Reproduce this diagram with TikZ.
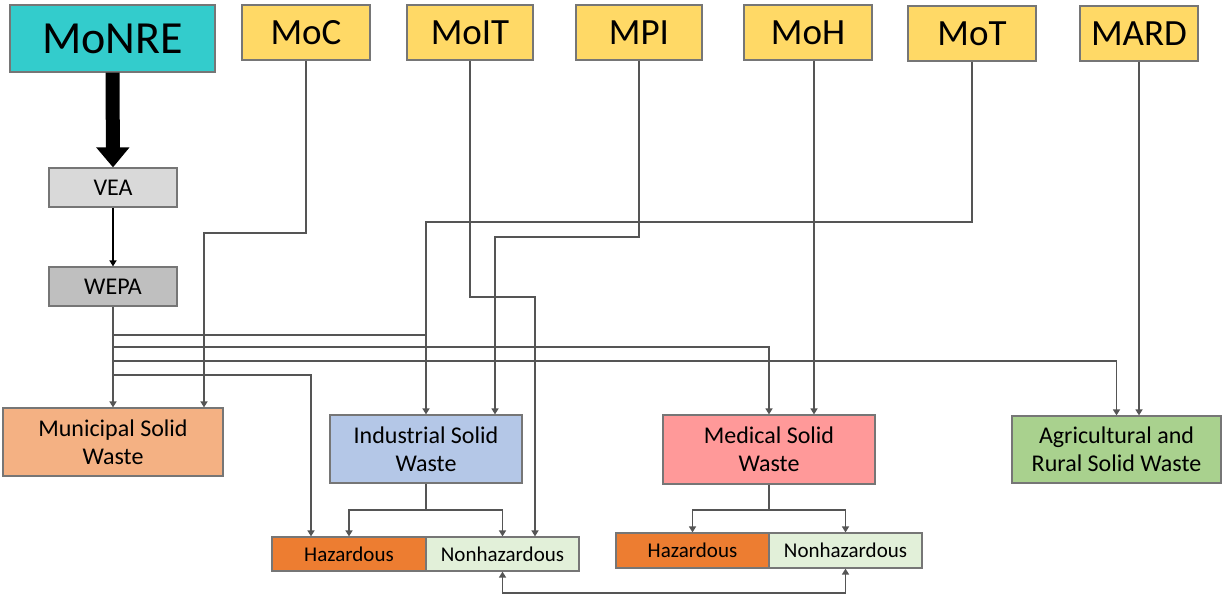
\documentclass[tikz,border=0pt]{standalone}
\usepackage{fontspec}
\setmainfont{Carlito}
\usetikzlibrary{arrows.meta,calc}
\definecolor{teal1}{HTML}{33CCCC}
\definecolor{yel}{HTML}{FFD966}
\definecolor{veac}{HTML}{D9D9D9}
\definecolor{wepac}{HTML}{BFBFBF}
\definecolor{munic}{HTML}{F4B183}
\definecolor{indc}{HTML}{B4C7E7}
\definecolor{medc}{HTML}{FF9999}
\definecolor{agric}{HTML}{A9D18E}
\definecolor{hazc}{HTML}{ED7D31}
\definecolor{nonc}{HTML}{E2F0D9}
\definecolor{edge}{HTML}{767676}
\definecolor{wire}{HTML}{555555}
\tikzset{
  box/.style={draw=edge, line width=1.2pt, inner sep=0pt, align=center, text=black},
  ministry/.style={box, fill=yel, minimum height=55pt, font=\fontsize{37}{40}\selectfont},
  agency/.style={box, minimum width=128pt, minimum height=39pt, font=\fontsize{24}{28}\selectfont},
  waste/.style={box, font=\fontsize{24}{28}\selectfont},
  kind/.style={box, font=\fontsize{21}{24}\selectfont},
  wirel/.style={draw=wire, line width=1.5pt},
  arr/.style={wirel, -{Triangle[width=7pt,length=6pt]}},
  darr/.style={wirel, {Triangle[width=7pt,length=6pt]}-{Triangle[width=7pt,length=6pt]}},
}
\begin{document}
\begin{tikzpicture}[x=1pt,y=-1pt]
\useasboundingbox (0,0) rectangle (1222,596);
% top row
\node[box, fill=teal1, minimum width=205pt, minimum height=67pt, font=\fontsize{46}{50}\selectfont] (monre) at (112.5,38.5) {MoNRE};
\node[ministry, minimum width=128pt] (moc) at (306,32.5) {MoC};
\node[ministry, minimum width=126pt] (moit) at (470,32.5) {MoIT};
\node[ministry, minimum width=126pt] (mpi) at (639,32.5) {MPI};
\node[ministry, minimum width=128pt] (moh) at (808,32.5) {MoH};
\node[ministry, minimum width=128pt] (mot) at (972,33.5) {MoT};
\node[ministry, minimum width=118pt] (mard) at (1139,33.5) {MARD};
% agencies
\node[agency, fill=veac] (vea) at (113,187.5) {VEA};
\node[agency, fill=wepac] (wepa) at (113,286.5) {WEPA};
% waste boxes
\node[waste, fill=munic, minimum width=220pt, minimum height=68pt] (muni) at (113,442) {Municipal Solid\\Waste};
\node[waste, fill=indc, minimum width=192pt, minimum height=68pt] (ind) at (426,449) {Industrial Solid\\Waste};
\node[waste, fill=medc, minimum width=212pt, minimum height=69pt] (med) at (769,449.5) {Medical Solid\\Waste};
\node[waste, fill=agric, minimum width=209pt, minimum height=67pt] (agri) at (1116.5,449.5) {Agricultural and\\Rural Solid Waste};
% hazardous kinds
\node[kind, fill=hazc, minimum width=154pt, minimum height=34pt] (haz1) at (349,554) {Hazardous};
\node[kind, fill=nonc, minimum width=153pt, minimum height=34pt] (non1) at (502.5,554) {Nonhazardous};
\node[kind, fill=hazc, minimum width=153pt, minimum height=35pt] (haz2) at (692.5,550.5) {Hazardous};
\node[kind, fill=nonc, minimum width=153pt, minimum height=35pt] (non2) at (845.5,550.5) {Nonhazardous};
% route levels
\coordinate (lc) at (0,233);
\coordinate (lp) at (0,237);
\coordinate (lt) at (0,222);
\coordinate (li) at (0,297);
\coordinate (b1) at (0,335);
\coordinate (b2) at (0,347);
\coordinate (b3) at (0,361);
\coordinate (b4) at (0,375);
\coordinate (sp) at (0,510);
\coordinate (bt) at (0,593);
% entry points
\coordinate (muniC) at ($(muni.north)+(91,0)$);
\coordinate (indP) at ($(ind.north)+(69,0)$);
\coordinate (nonI) at ($(non1.north)+(32.5,0)$);
\coordinate (hazW) at ($(haz1.north)+(-38,0)$);
\coordinate (medH) at ($(med.north)+(45,0)$);
\coordinate (mohS) at ($(moh.south)+(6,0)$);
% MoNRE -> VEA thick arrow
\draw[black, line width=14pt, -{Triangle[width=32pt,length=20pt]}] (monre.south) -- (vea.north);
\draw[black, line width=1.5pt, -{Triangle[width=7pt,length=6pt]}] (vea.south) -- (wepa.north);
% WEPA lines
\draw[arr] (wepa.south) -- (muni.north);
\draw[wirel] (wepa.south |- b1) -- (ind.north |- b1);
\draw[arr] (wepa.south |- b2) -| (med.north);
\draw[arr] (wepa.south |- b3) -| (agri.north);
\draw[arr] (wepa.south |- b4) -| (hazW);
% ministries
\draw[arr] (moc.south) -- (moc.south |- lc) -| (muniC);
\draw[arr] (moit.south) -- (moit.south |- li) -| (nonI);
\draw[arr] (mpi.south) -- (mpi.south |- lp) -| (indP);
\draw[arr] (mohS) -- (medH);
\draw[arr] (mot.south) -- (mot.south |- lt) -| (ind.north);
\draw[arr] (mard.south) -- (mard.south |- agri.north);
% splits
\draw[wirel] (ind.south) -- (ind.south |- sp);
\draw[arr] (ind.south |- sp) -| (haz1.north);
\draw[arr] (ind.south |- sp) -| (non1.north);
\draw[wirel] (med.south) -- (med.south |- sp);
\draw[arr] (med.south |- sp) -| (haz2.north);
\draw[arr] (med.south |- sp) -| (non2.north);
% bottom link
\draw[darr] (non1.south) -- (non1.south |- bt) -| (non2.south);
\end{tikzpicture}
\end{document}
